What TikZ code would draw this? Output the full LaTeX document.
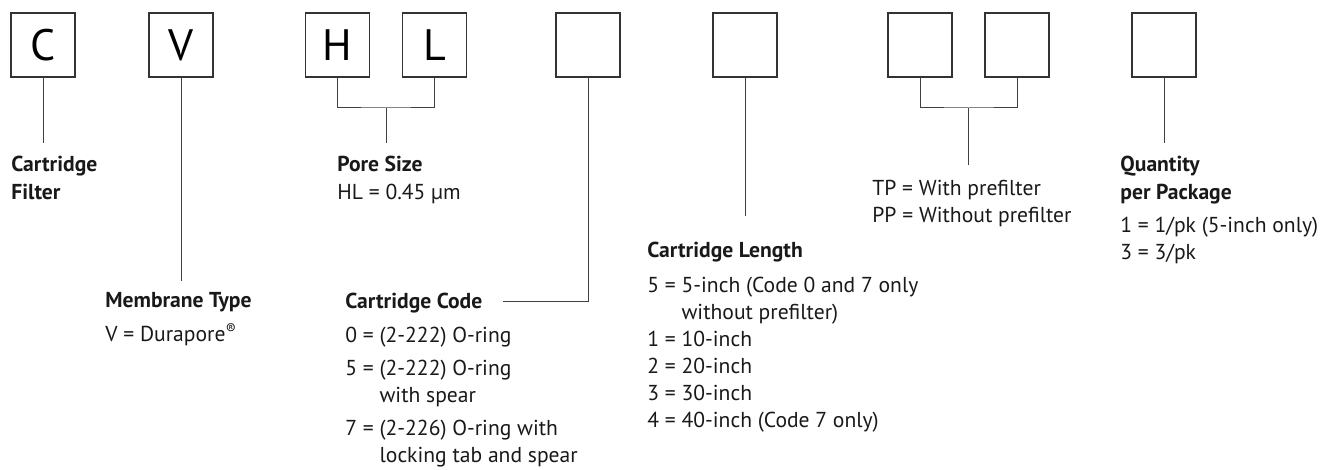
\documentclass[tikz,border=0pt]{standalone}
\usepackage{fontspec}
\setmainfont{PT Sans}
\usetikzlibrary{positioning}

\begin{document}
\begin{tikzpicture}[x=0.5pt, y=-0.5pt,
  letter/.style={draw=black!80, line width=0.6pt, minimum size=32pt, inner sep=0pt,
                 font=\fontsize{22}{22}\selectfont},
  head/.style={anchor=base west, inner sep=0pt, align=left, text=black!90,
               font=\fontsize{10.8}{14}\selectfont\bfseries},
  txt/.style={anchor=base west, inner sep=0pt, align=left, text=black!90,
              font=\fontsize{10.8}{13.5}\selectfont},
  con/.style={draw=black!75, line width=0.5pt}
]
\useasboundingbox (0,0) rectangle (1322,470);

% code letters
\node[letter] (bc) at (43,45) {C};
\node[letter] (bv) at (181,45) {V};
\node[letter] (bh) at (337.5,45) {H};
\node[letter] (bl) at (434.5,45) {L};
\node[letter] (bcode) at (588,45) {};
\node[letter] (blen) at (745,45) {};
\node[letter] (btp) at (920,45) {};
\node[letter] (bpp) at (1017,45) {};
\node[letter] (bq) at (1164,45) {};

% labels (base = last line)
\node[head] (cf) at (11,200) {Cartridge\\Filter};
\node[head] (mt) at (105,307) {Membrane Type};
\node[txt] (mtv) at (105,342) {V = Durapore\textsuperscript{®}};
\node[head] (ps) at (337,172) {Pore Size};
\node[txt] (psv) at (337,200) {HL = 0.45 µm};
\node[head] (cc) at (345,308) {Cartridge Code};
\node[txt] (ccv) at (345,462) {0 = (2-222) O-ring\\[3pt]
  5 = (2-222) O-ring\\ \phantom{5 = }with spear\\[3pt]
  7 = (2-226) O-ring with\\ \phantom{7 = }locking tab and spear};
\node[head] (cl) at (647,257) {Cartridge Length};
\node[txt] (clv) at (647,427) {5 = 5-inch (Code 0 and 7 only\\
  \phantom{5 = }without prefilter)\\1 = 10-inch\\2 = 20-inch\\3 = 30-inch\\
  4 = 40-inch (Code 7 only)};
\node[txt] (pf) at (872,223) {TP = With prefilter\\PP = Without prefilter};
\node[head] (qp) at (1120,200) {Quantity\\per Package};
\node[txt] (qpv) at (1120,260) {1 = 1/pk (5-inch only)\\3 = 3/pk};

% leader lines
\coordinate (cend) at (43,143);
\coordinate (vend) at (181,281);
\coordinate (hlj) at (386,108);
\coordinate (hlend) at (386,143);
\coordinate (ccend) at (503,301);
\coordinate (clend) at (745,216);
\coordinate (tpj) at (968.5,108);
\coordinate (tpend) at (968.5,165);
\coordinate (qend) at (1164,143);

\draw[con] (bc) -- (cend);
\draw[con] (bv) -- (vend);
\draw[con] (bh.south) |- (hlj) -| (bl.south);
\draw[con] (hlj) -- (hlend);
\draw[con] (bcode.south) |- (ccend);
\draw[con] (blen) -- (clend);
\draw[con] (btp.south) |- (tpj) -| (bpp.south);
\draw[con] (tpj) -- (tpend);
\draw[con] (bq) -- (qend);
\end{tikzpicture}
\end{document}
